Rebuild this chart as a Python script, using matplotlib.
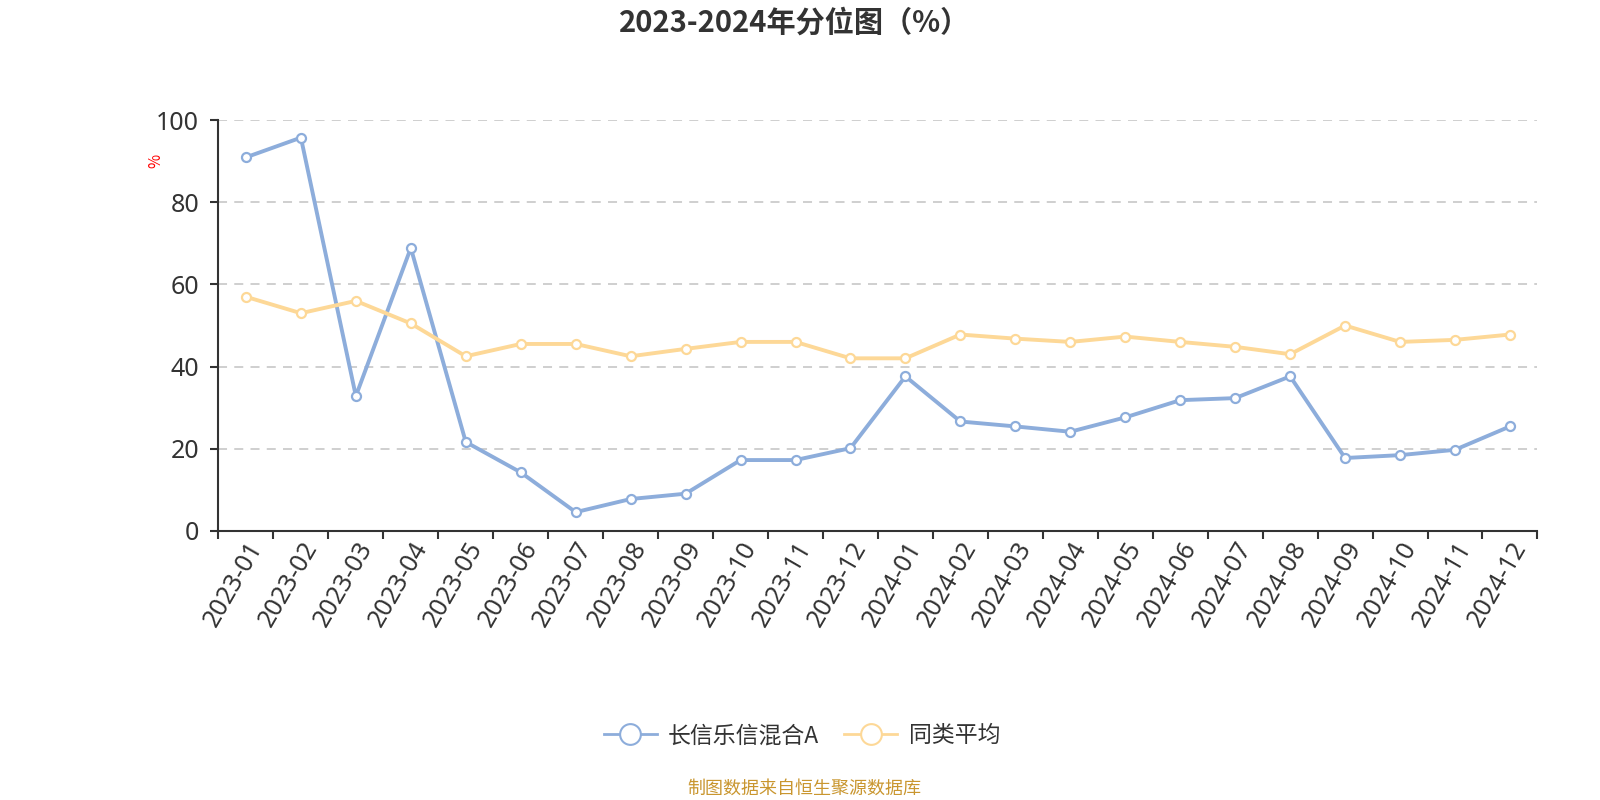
import matplotlib
matplotlib.use("Agg")
import matplotlib.pyplot as plt
import numpy as np

plt.rcParams['font.family'] = ['Noto Sans CJK SC', 'DejaVu Sans']

months = ["2023-01", "2023-02", "2023-03", "2023-04", "2023-05", "2023-06",
          "2023-07", "2023-08", "2023-09", "2023-10", "2023-11", "2023-12",
          "2024-01", "2024-02", "2024-03", "2024-04", "2024-05", "2024-06",
          "2024-07", "2024-08", "2024-09", "2024-10", "2024-11", "2024-12"]
fund = [91.0, 95.8, 32.8, 68.9, 21.6, 14.2, 4.5, 7.7, 9.0, 17.2, 17.2, 20.1,
        37.6, 26.6, 25.4, 24.1, 27.6, 31.8, 32.3, 37.6, 17.7, 18.4, 19.7, 25.4]
peer = [57.0, 53.0, 56.0, 50.5, 42.5, 45.5, 45.5, 42.5, 44.3, 46.0, 46.0, 42.0,
        42.0, 47.8, 46.8, 46.0, 47.3, 46.0, 44.8, 43.0, 50.0, 46.0, 46.5, 47.8]
yticks = [0, 20, 40, 60, 80, 100]
series_names = ["长信乐信混合A", "同类平均"]
title = "2023-2024年分位图（%）"
footer = "制图数据来自恒生聚源数据库"

blue = '#8DADDB'
orange = '#FDD897'
W, H = 1560, 784
tickfont = ['Noto Sans', 'DejaVu Sans']

fig = plt.figure(figsize=(16, 8), dpi=100)
ax = fig.add_axes([213 / W, 1 - 520 / H, (1499 - 213) / W, (520 - 118) / H])

x = np.arange(len(months))
for vals, col, name in [(fund, blue, series_names[0]), (peer, orange, series_names[1])]:
    ax.plot(x, vals, color=col, lw=2.8, marker='o', ms=6.5, mfc='white',
            mec=col, mew=1.6, label=name, zorder=3)

ax.set_xlim(-0.5, len(months) - 0.5)
ax.set_ylim(0, 100)
ax.set_yticks(yticks)
ax.set_yticklabels([str(v) for v in yticks], fontsize=18, color='#333333',
                   family=tickfont)
ax.set_xticks(np.arange(len(months) + 1) - 0.5)
ax.set_xticklabels([])
ax.set_xticks(x, minor=True)
ax.set_xticklabels(months, minor=True, rotation=60, ha='right', va='top',
                   rotation_mode='anchor', fontsize=18, color='#333333',
                   family=tickfont)
ax.tick_params(axis='x', which='minor', length=0, pad=5)
ax.tick_params(axis='x', which='major', length=6, width=1.5, color='#333333', direction='out')
ax.tick_params(axis='y', length=6, width=1.5, color='#333333', pad=8)

for s in ['top', 'right']:
    ax.spines[s].set_visible(False)
for s in ['left', 'bottom']:
    ax.spines[s].set_color('#333333')
    ax.spines[s].set_linewidth(1.5)

ax.grid(axis='y', linestyle=(0, (5, 4)), color='#cccccc', lw=1.3)
ax.set_axisbelow(True)

fig.text(152 / W, 1 - 158 / H, '%', color='red', rotation=90, fontsize=11,
         ha='center', va='center')
fig.text(775 / W, 1 - 22 / H, title, fontsize=21, fontweight='bold',
         color='#333333', ha='center', va='center')
fig.text(784 / W, 1 - 773 / H, footer, fontsize=13, color='#C9962F',
         ha='center', va='center')

leg = fig.legend(loc='center', bbox_to_anchor=(782 / W, 1 - 721 / H), ncol=2,
                 frameon=False, fontsize=16.5, markerscale=2.3, handlelength=2.3,
                 columnspacing=1.1, handletextpad=0.5)
for h in leg.legend_handles:
    h.set_linewidth(2)
    h.set_markeredgewidth(1.5)
for t in leg.get_texts():
    t.set_color('#333333')

fig.savefig('out.png', dpi=100)
